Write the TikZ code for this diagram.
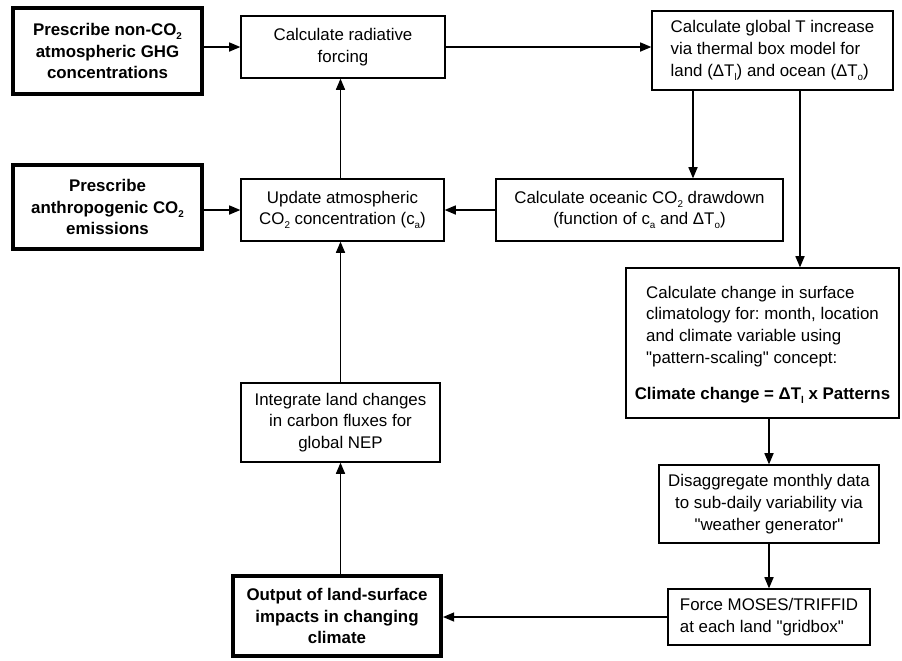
\documentclass[tikz,border=0pt]{standalone}
\usepackage{fontspec}
\setmainfont{Liberation Sans}
\newfontfamily\diagfont{Liberation Sans}
\usetikzlibrary{arrows.meta}
\frenchspacing
\newcommand{\lowsub}[1]{\raisebox{-0.45ex}{\fontsize{7}{7}\selectfont #1}}
\tikzset{
  box/.style={draw, line width=0.9pt, inner sep=2pt, align=center,
    font=\diagfont\fontsize{12}{15.5}\selectfont},
  keybox/.style={box, line width=2.8pt, font=\diagfont\fontsize{12}{15.5}\selectfont\bfseries},
  flow/.style={line width=0.9pt, -{Triangle[length=8pt,width=6.5pt]}}
}
\begin{document}
\begin{tikzpicture}[x=0.025cm, y=-0.025cm]
  \useasboundingbox (0,0) rectangle (902,660);
  % Inputs
  \node[keybox, minimum width=4.725cm, minimum height=2.15cm] (ghg) at (107.5,51)
    {Prescribe non-CO\lowsub{2}\\atmospheric GHG\\concentrations};
  \node[keybox, minimum width=4.725cm, minimum height=2.1cm] (emis) at (107.5,207)
    {Prescribe\\anthropogenic CO\lowsub{2}\\emissions};
  % Carbon cycle column
  \node[box, minimum width=5.1cm, minimum height=1.55cm] (forcing) at (343,47)
    {Calculate radiative\\forcing};
  \node[box, minimum width=5.075cm, minimum height=1.55cm] (conc) at (342.5,210)
    {Update atmospheric\\CO\lowsub{2} concentration (c\lowsub{a})};
  \node[box, minimum width=4.975cm, minimum height=1.975cm] (nep) at (340.5,422.5)
    {Integrate land changes\\in carbon fluxes for\\global NEP};
  \node[keybox, minimum width=5.2cm, minimum height=2cm] (out) at (337,616)
    {Output of land-surface\\impacts in changing\\climate};
  % Climate column
  \node[box, align=left, minimum width=6.025cm, minimum height=1.975cm] (temp) at (772.5,50.5)
    {Calculate global T increase\\via thermal box model for\\land (ΔT\lowsub{l}) and ocean (ΔT\lowsub{o})};
  \node[box, minimum width=7.175cm, minimum height=1.55cm] (ocean) at (639.5,210)
    {Calculate oceanic CO\lowsub{2} drawdown\\(function of c\lowsub{a} and ΔT\lowsub{o})};
  \node[box, minimum width=6.825cm, minimum height=3.75cm] (pattern) at (762.5,343)
    {\begin{tabular}{@{}l@{}}Calculate change in surface\\climatology for: month, location\\and climate variable using\\"pattern-scaling" concept:\end{tabular}\\[11pt]
     \textbf{Climate change = ΔT\lowsub{l} x Patterns}};
  \node[box, minimum width=5.5cm, minimum height=1.95cm] (weather) at (769,504)
    {Disaggregate monthly data\\to sub-daily variability via\\"weather generator"};
  \node[box, align=left, minimum width=5.05cm, minimum height=1.4cm] (moses) at (769,617)
    {Force MOSES/TRIFFID\\at each land "gridbox"};
  % Connector columns
  \coordinate (xo) at (693,0);
  \coordinate (xp) at (800,0);
  % Arrows
  \draw[flow] (ghg.east |- forcing) -- (forcing.west);
  \draw[flow] (emis.east |- conc) -- (conc.west);
  \draw[flow] (forcing.east) -- (temp.west |- forcing);
  \draw[flow] (conc.north -| nep) -- (forcing.south -| nep);
  \draw[flow] (ocean.west) -- (conc.east);
  \draw[flow] (xo |- temp.south) -- (xo |- ocean.north);
  \draw[flow] (xp |- temp.south) -- (xp |- pattern.north);
  \draw[flow] (weather.north |- pattern.south) -- (weather.north);
  \draw[flow] (weather.south) -- (moses.north);
  \draw[flow] (moses.west) -- (out.east |- moses);
  \draw[flow] (out.north -| nep) -- (nep.south);
  \draw[flow] (nep.north) -- (conc.south -| nep);
\end{tikzpicture}
\end{document}
